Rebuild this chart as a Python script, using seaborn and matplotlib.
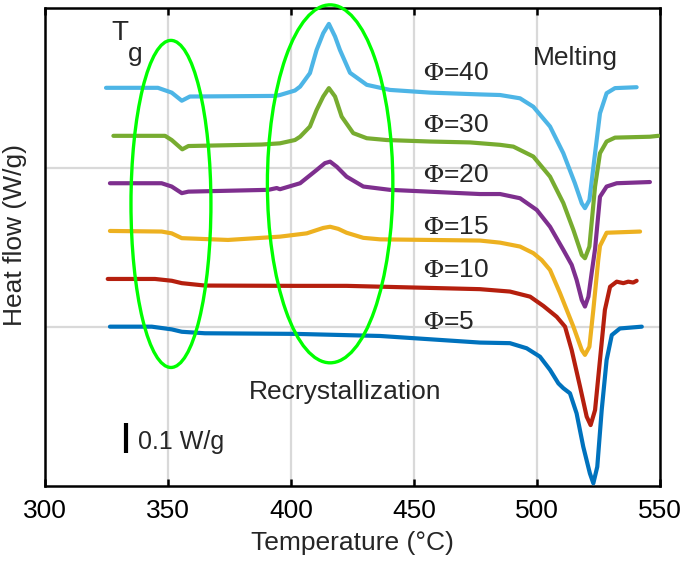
import numpy as np
import pandas as pd
import matplotlib
matplotlib.use("Agg")
import matplotlib.pyplot as plt
from matplotlib.patches import Ellipse
import seaborn as sns

# ---- data (temperature in °C, heat flow in W/g, curves offset vertically) ----
t40 = [324.8, 345.9, 351.5, 355.6, 358.9, 393.5, 395.5, 401.6, 403.7, 407.7, 410.4, 413.1, 415.4, 417.9, 419.9, 424.0, 430.8, 440.2, 456.5, 476.8, 485.0, 493.1, 498.5, 505.3, 510.7, 515.4, 518.2, 519.5, 521.3, 523.6, 525.6, 528.3, 531.7, 540.5]
h40 = [1.327, 1.327, 1.311, 1.284, 1.298, 1.300, 1.303, 1.318, 1.331, 1.376, 1.453, 1.509, 1.540, 1.498, 1.453, 1.377, 1.337, 1.320, 1.311, 1.305, 1.303, 1.292, 1.264, 1.198, 1.109, 1.009, 0.942, 0.926, 0.953, 1.109, 1.242, 1.309, 1.326, 1.329]

t30 = [327.8, 348.8, 351.5, 355.8, 358.3, 388.1, 395.5, 401.6, 403.7, 407.7, 410.4, 413.1, 415.4, 417.9, 420.6, 425.3, 430.8, 438.9, 456.5, 472.8, 485.0, 490.4, 498.5, 505.3, 510.7, 514.8, 518.2, 519.5, 521.3, 523.6, 525.6, 528.3, 531.7, 545.9, 549.3]
h30 = [1.167, 1.167, 1.153, 1.122, 1.133, 1.138, 1.142, 1.153, 1.164, 1.198, 1.253, 1.298, 1.326, 1.298, 1.231, 1.176, 1.159, 1.153, 1.148, 1.145, 1.137, 1.131, 1.098, 1.031, 0.943, 0.853, 0.770, 0.759, 0.798, 0.998, 1.109, 1.148, 1.161, 1.164, 1.167]

t20 = [326.4, 347.4, 351.5, 355.6, 358.3, 390.8, 394.2, 395.5, 403.7, 410.4, 413.8, 415.9, 418.6, 422.6, 429.4, 440.2, 476.8, 485.0, 493.1, 499.9, 505.3, 510.7, 514.1, 516.1, 518.2, 519.5, 520.9, 522.2, 523.6, 525.6, 528.3, 532.4, 545.9]
h20 = [1.009, 1.009, 0.998, 0.976, 0.981, 0.987, 0.993, 0.989, 1.009, 1.053, 1.076, 1.081, 1.064, 1.031, 0.998, 0.987, 0.973, 0.973, 0.959, 0.920, 0.864, 0.787, 0.737, 0.687, 0.620, 0.598, 0.631, 0.709, 0.790, 0.964, 0.998, 1.009, 1.013]

t15 = [326.4, 347.4, 351.5, 355.6, 374.4, 395.5, 406.4, 413.1, 415.9, 419.2, 422.6, 429.4, 436.2, 476.8, 485.0, 493.1, 498.5, 501.9, 505.3, 509.3, 514.8, 518.2, 519.5, 521.3, 522.9, 524.9, 525.6, 528.3, 541.9]
h15 = [0.850, 0.848, 0.842, 0.826, 0.820, 0.831, 0.842, 0.860, 0.864, 0.857, 0.844, 0.827, 0.822, 0.818, 0.811, 0.798, 0.776, 0.753, 0.720, 0.644, 0.531, 0.453, 0.437, 0.464, 0.587, 0.753, 0.800, 0.844, 0.848]

t10 = [325.5, 344.7, 351.5, 355.6, 365.0, 401.6, 422.6, 476.8, 489.0, 497.2, 502.6, 508.0, 511.4, 514.1, 517.5, 520.2, 521.8, 523.6, 525.6, 527.6, 529.7, 532.4, 535.1, 537.1, 539.1, 540.5]
h10 = [0.690, 0.690, 0.684, 0.676, 0.668, 0.667, 0.667, 0.656, 0.648, 0.631, 0.600, 0.564, 0.531, 0.453, 0.331, 0.231, 0.203, 0.253, 0.420, 0.587, 0.664, 0.681, 0.676, 0.681, 0.678, 0.684]

t5 = [326.4, 343.4, 351.5, 355.6, 365.0, 401.6, 436.2, 476.8, 489.0, 495.8, 501.2, 505.3, 508.7, 510.7, 513.4, 516.1, 518.8, 521.5, 522.9, 524.5, 526.3, 528.3, 530.4, 533.7, 542.6]
h5 = [0.531, 0.531, 0.522, 0.514, 0.509, 0.507, 0.500, 0.478, 0.476, 0.459, 0.431, 0.387, 0.342, 0.326, 0.309, 0.242, 0.131, 0.042, 0.009, 0.064, 0.253, 0.420, 0.503, 0.525, 0.531]

labels = ["Φ=40", "Φ=30", "Φ=20", "Φ=15", "Φ=10", "Φ=5"]
colors = ["#4DB5E6", "#77AC30", "#7E2F8E", "#EDB120", "#B51F0E", "#0072BD"]
label_y = [1.377, 1.203, 1.037, 0.863, 0.720, 0.548]
x_ticks = [300, 350, 400, 450, 500, 550]
y_grid = [0.53, 1.06]

series = [(t40, h40), (t30, h30), (t20, h20), (t15, h15), (t10, h10), (t5, h5)]
frames = []
for lab, (t, h) in zip(labels, series):
    frames.append(pd.DataFrame({"T": t, "hf": h, "phi": lab}))
df = pd.concat(frames, ignore_index=True)

# ---- plotting ----
sns.set_style("white")
plt.rcParams["font.family"] = ["Liberation Sans", "DejaVu Sans"]
plt.rcParams["mathtext.fontset"] = "stix"

fig = plt.figure(figsize=(6.85, 5.69), dpi=100)
ax = fig.add_axes([45/685, 1-486/569, 615/685, 478/569])

sns.lineplot(data=df, x="T", y="hf", hue="phi", hue_order=labels,
             palette=dict(zip(labels, colors)), estimator=None, sort=False,
             linewidth=3, legend=False, ax=ax, zorder=3)
for ln in ax.get_lines():
    ln.set_solid_joinstyle("round")
    ln.set_solid_capstyle("round")

ax.set_xlim(300, 550)
ax.set_ylim(0, 1.593)
ax.set_xticks(x_ticks)
ax.set_xticklabels([str(v) for v in x_ticks], fontsize=19)
ax.set_yticks(y_grid)
ax.set_yticklabels([])
ax.tick_params(axis="y", length=0)
ax.tick_params(axis="x", direction="in", length=5, width=1.8, top=True, bottom=True, pad=9, colors="black")
for v in x_ticks[1:-1]:
    ax.axvline(v, color="#d9d9d9", lw=1.6, zorder=0)
for v in y_grid:
    ax.axhline(v, color="#d9d9d9", lw=1.6, zorder=0)
for s in ax.spines.values():
    s.set_linewidth(1.8)
    s.set_color("black")

ax.set_xlabel("Temperature (°C)", fontsize=19, labelpad=6)
ax.set_ylabel("Heat flow (W/g)", fontsize=19)
ax.yaxis.set_label_coords(-0.03, 0.525)

# ellipses
ax.add_patch(Ellipse((351.2, 0.94), 32.5, 1.09, fill=False, edgecolor="#00FF00", lw=2.4, zorder=4, clip_on=False))
ax.add_patch(Ellipse((415.9, 1.007), 51.0, 1.193, fill=False, edgecolor="#00FF00", lw=2.4, zorder=4, clip_on=False))

# labels
for lab, y in zip(labels, label_y):
    ax.text(453.5, y, lab.replace("Φ", r"$\Phi$"), fontsize=19, va="center", ha="left")
ax.text(330.6, 1.51, "T", fontsize=20, ha="center", va="center")
ax.text(336.6, 1.44, "g", fontsize=19, ha="center", va="center")
ax.text(515.4, 1.427, "Melting", fontsize=19, ha="center", va="center")
ax.text(422.0, 0.314, "Recrystallization", fontsize=19, ha="center", va="center")
ax.plot([332.9, 332.9], [0.109, 0.211], color="black", lw=3, solid_capstyle="butt")
ax.text(338.0, 0.148, "0.1 W/g", fontsize=18, ha="left", va="center")

fig.savefig("out.png", dpi=100)
